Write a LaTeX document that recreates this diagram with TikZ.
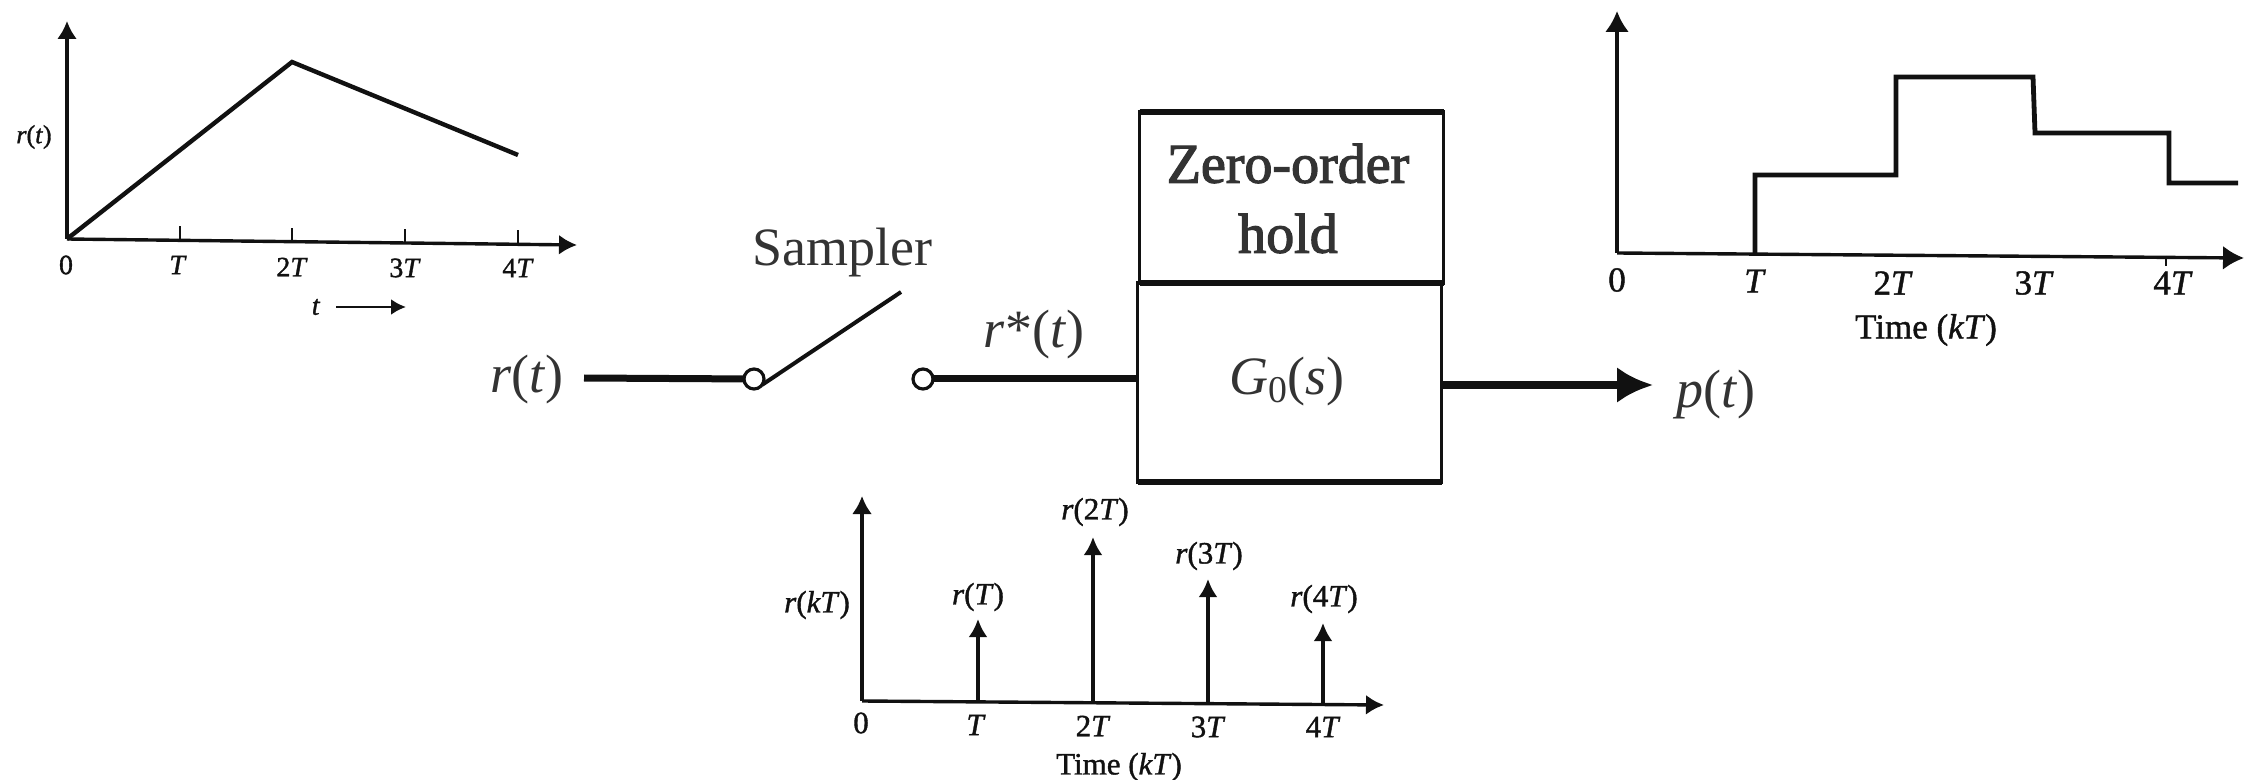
\documentclass[tikz,border=0pt]{standalone}
\usepackage{fontspec}
\setmainfont{Liberation Serif}
\newfontfamily\semibf[FakeBold=1.2]{Liberation Serif}
\newfontfamily\heavybf[FakeBold=2.2]{Liberation Serif}
\usetikzlibrary{arrows.meta}
\definecolor{ink}{HTML}{111111}
\definecolor{soft}{HTML}{333333}
\newcommand{\ti}[1]{\textit{#1}}
\tikzset{
  ticklabel/.style={font=\fontsize{14pt}{16pt}\selectfont\semibf,text=ink,inner sep=0pt},
  midtick/.style={font=\fontsize{15.5pt}{18pt}\selectfont\semibf,text=ink,inner sep=0pt},
  bigtick/.style={font=\fontsize{17.5pt}{20pt}\selectfont\semibf,text=ink,inner sep=0pt},
  smalllabel/.style={font=\fontsize{13pt}{16pt}\selectfont\semibf,text=ink,inner sep=0pt},
  midlabel/.style={font=\fontsize{15.5pt}{18pt}\selectfont\semibf,text=ink,inner sep=0pt},
  mainlabel/.style={font=\fontsize{27pt}{35pt}\selectfont,text=soft,inner sep=0pt,align=center},
  holdlabel/.style={font=\fontsize{28pt}{35pt}\selectfont\heavybf,text=soft,inner sep=0pt,align=center},
  axisline/.style={draw=ink,line width=1.7pt,-{Latex[length=9pt,width=10pt]}},
  wideaxis/.style={draw=ink,line width=1.7pt,-{Latex[length=10.5pt,width=12pt]}},
  tickmark/.style={draw=ink,line width=1.2pt},
  curve/.style={draw=ink,line width=2.2pt,line join=miter},
  stem/.style={draw=ink,line width=1.9pt,-{Latex[length=9pt,width=9.5pt]}},
  wire/.style={draw=ink,line width=3.5pt},
  contact/.style={circle,draw=ink,fill=white,line width=1.6pt,minimum size=10pt,inner sep=0pt,outer sep=0pt},
  blockbox/.style={draw=ink,line width=1.7pt,inner sep=0pt,outer sep=0pt,minimum width=152pt},
}
\begin{document}
\begin{tikzpicture}[x=0.5pt,y=-0.5pt]
\useasboundingbox (0,0) rectangle (2248,780);
% ---- top-left chart
\coordinate (a0) at (67,239);
\coordinate (atop) at (67,21);
\coordinate (aright) at (577,245);
\coordinate (apeak) at (292,62);
\coordinate (aend) at (518,155);
\draw[axisline] (a0) -- (atop);
\draw[axisline] (a0) -- (aright);
\foreach \x/\yy/\n in {180/240/a1,292/242/a2,405/243/a3,518/244/a4}{
  \coordinate (\n b) at (\x,\yy); \coordinate (\n t) at (\x,\yy-14);
  \draw[tickmark] (\n b) -- (\n t);
}
\draw[curve] (a0) -- (apeak) -- (aend);
\node[smalllabel] (arl) at (34,137) {\ti{r}(\ti{t})};
\node[ticklabel] (al0) at (66,265) {0};
\node[ticklabel] (al1) at (178,265) {\ti{T}};
\node[ticklabel] (al2) at (292,267) {2\ti{T}};
\node[ticklabel] (al3) at (405,268) {3\ti{T}};
\node[ticklabel] (al4) at (518,268) {4\ti{T}};
\node[ticklabel] (alt) at (316,307) {\ti{t}};
\coordinate (tas) at (336,307);
\coordinate (tae) at (406,307);
\draw[draw=ink,line width=1.3pt,-{Latex[length=7.5pt,width=8pt]}] (tas) -- (tae);
% ---- top-right chart
\coordinate (b0) at (1617,253);
\coordinate (btop) at (1617,11);
\coordinate (bright) at (2244,258);
\draw[wideaxis] (b0) -- (btop);
\draw[wideaxis] (b0) -- (bright);
\coordinate (s0) at (1755,253);
\coordinate (s1) at (1755,175);
\coordinate (s2) at (1896,175);
\coordinate (s3) at (1896,77);
\coordinate (s4) at (2033,77);
\coordinate (s5) at (2035,133);
\coordinate (s6) at (2169,133);
\coordinate (s7) at (2169,183);
\coordinate (s8) at (2238,183);
\draw[curve,line width=2.4pt] (s0) -- (s1) -- (s2) -- (s3) -- (s4) -- (s5) -- (s6) -- (s7) -- (s8);
\coordinate (bt4a) at (2166,256); \coordinate (bt4b) at (2166,266);
\draw[tickmark] (bt4a) -- (bt4b);
\node[bigtick] (bl0) at (1617,280) {0};
\node[bigtick] (bl1) at (1755,281) {\ti{T}};
\node[bigtick] (bl2) at (1893,283) {2\ti{T}};
\node[bigtick] (bl3) at (2034,283) {3\ti{T}};
\node[bigtick] (bl4) at (2173,283) {4\ti{T}};
\node[bigtick] (blx) at (1926,330) {Time (\ti{kT})};
% ---- bottom chart
\coordinate (c0) at (862,701);
\coordinate (ctop) at (862,496);
\coordinate (cright) at (1384,705);
\draw[axisline] (c0) -- (ctop);
\draw[axisline] (c0) -- (cright);
\foreach \x/\yb/\yt/\n in {978/702/619/c1,1093/703/537/c2,1208/704/579/c3,1323/705/623/c4}{
  \coordinate (\n b) at (\x,\yb); \coordinate (\n t) at (\x,\yt);
  \draw[stem] (\n b) -- (\n t);
}
\node[midlabel] (crk) at (817,605) {\ti{r}(\ti{kT})};
\node[midlabel] (cr1) at (978,597) {\ti{r}(\ti{T})};
\node[midlabel] (cr2) at (1095,512) {\ti{r}(2\ti{T})};
\node[midlabel] (cr3) at (1209,556) {\ti{r}(3\ti{T})};
\node[midlabel] (cr4) at (1324,599) {\ti{r}(4\ti{T})};
\node[midtick] (cl0) at (861,723) {0};
\node[midtick] (cl1) at (976,725) {\ti{T}};
\node[midtick] (cl2) at (1093,726) {2\ti{T}};
\node[midtick] (cl3) at (1208,727) {3\ti{T}};
\node[midtick] (cl4) at (1323,727) {4\ti{T}};
\node[midtick] (clx) at (1119,767) {Time (\ti{kT})};
% ---- central block diagram
\node[blockbox,minimum height=85.5pt] (zoh) at (1291.5,197.5) {};
\node[blockbox,minimum height=99.5pt] (gzero) at (1289.5,382.5) {};
\node[holdlabel] (zohtext) at (1288,198.5) {Zero-order\\hold};
\node[mainlabel] (gzerotext) at (1287,382) {\ti{G}\textsubscript{0}(\ti{s})};
\draw[draw=ink,line width=2.6pt] (zoh.north west) -- (zoh.north east);
\draw[draw=ink,line width=2.6pt] (zoh.south west) -- (zoh.south east);
\draw[draw=ink,line width=2.6pt] (gzero.south west) -- (gzero.south east);
\node[contact] (swa) at (754,379) {};
\node[contact] (swb) at (923,379) {};
\node[mainlabel] (inlab) at (527,380) {\ti{r}(\ti{t})};
\node[mainlabel] (smp) at (842,253) {Sampler};
\node[mainlabel] (rstar) at (1034,335) {\ti{r}*(\ti{t})};
\node[mainlabel] (outlab) at (1716,395) {\ti{p}(\ti{t})};
\coordinate (inw) at (584,378);
\coordinate (lever) at (901,292);
\coordinate (outs) at (gzero.east|-0,385);
\coordinate (oute) at (1653,385);
\draw[wire] (inw) -- (swa);
\draw[wire] (swb) -- (gzero.west|-swb);
\draw[draw=ink,line width=2pt] (swa) ++(35:10) -- (lever);
\draw[draw=ink,line width=3.8pt,-{Latex[length=18pt,width=18pt]}] (outs) -- (oute);
\end{tikzpicture}
\end{document}
